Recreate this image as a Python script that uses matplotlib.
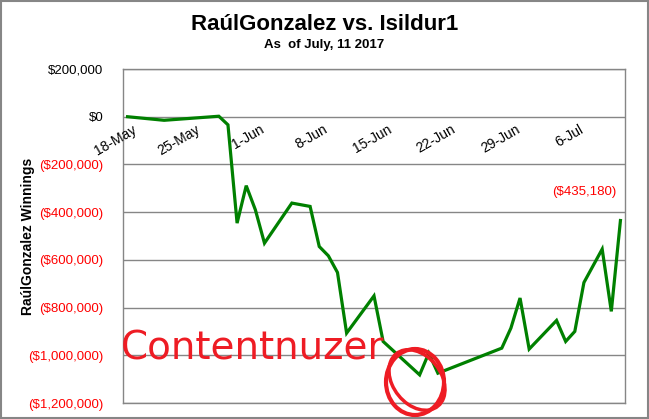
import matplotlib
matplotlib.use("Agg")
import matplotlib.pyplot as plt
import matplotlib.dates as mdates
from matplotlib.patches import Rectangle, Ellipse
import datetime as dt

plt.rcParams['font.family'] = ['Liberation Sans', 'DejaVu Sans']

# ---- data ----
dates = ['2017-05-18', '2017-05-22', '2017-05-28', '2017-05-29', '2017-05-30',
         '2017-05-31', '2017-06-01', '2017-06-02', '2017-06-05', '2017-06-07',
         '2017-06-08', '2017-06-09', '2017-06-10', '2017-06-11', '2017-06-14',
         '2017-06-15', '2017-06-19', '2017-06-20', '2017-06-21', '2017-06-28',
         '2017-06-29', '2017-06-30', '2017-07-01', '2017-07-04', '2017-07-05',
         '2017-07-06', '2017-07-07', '2017-07-09', '2017-07-10', '2017-07-11']
winnings = [0, -15000, 2000, -34000, -446000,
            -289000, -390000, -530000, -362000, -376000,
            -544000, -583000, -653000, -907000, -751000,
            -942000, -1082000, -991000, -1075000, -970000,
            -886000, -760000, -974000, -854000, -942000,
            -900000, -695000, -555000, -816000, -435180]
x_tick_dates = ['2017-05-18', '2017-05-25', '2017-06-01', '2017-06-08',
                '2017-06-15', '2017-06-22', '2017-06-29', '2017-07-06']
x_tick_labels = ['18-May', '25-May', '1-Jun', '8-Jun', '15-Jun', '22-Jun', '29-Jun', '6-Jul']
y_ticks = [200000, 0, -200000, -400000, -600000, -800000, -1000000, -1200000]
y_tick_labels = ['$200,000', '$0', '($200,000)', '($400,000)', '($600,000)',
                 '($800,000)', '($1,000,000)', '($1,200,000)']
last_label = '($435,180)'

title = 'RaúlGonzalez vs. Isildur1'
subtitle = 'As  of July, 11 2017'
ylabel = 'RaúlGonzalez Winnings'
scribble = 'Contentnuzer'

# ---- figure ----
W, H = 649, 419
fig = plt.figure(figsize=(W / 100, H / 100), dpi=100)
fig.patch.set_facecolor('white')

L, R, T, B = 123, 625, 69, 403
ax = fig.add_axes([L / W, 1 - B / H, (R - L) / W, (B - T) / H])

xd = [mdates.date2num(dt.datetime.strptime(d, '%Y-%m-%d')) for d in dates]
xt = [mdates.date2num(dt.datetime.strptime(d, '%Y-%m-%d')) for d in x_tick_dates]

ax.plot(xd, winnings, color='#008000', lw=2.3, solid_joinstyle='miter', zorder=3)

ax.set_xlim(xd[0] - 0.5, xd[-1] + 0.5)
ax.set_ylim(-1200000, 200000)

grid_col = '#868686'
for v in y_ticks:
    ax.axhline(v, color=grid_col, lw=1.0, zorder=1)
for s in ax.spines.values():
    s.set_color(grid_col)
    s.set_linewidth(1.0)

ax.set_yticks(y_ticks)
ax.set_yticklabels(y_tick_labels, fontsize=9.5)
for lab, v in zip(ax.get_yticklabels(), y_ticks):
    lab.set_color('black' if v >= 0 else '#FF0000')
ax.tick_params(axis='y', length=0, pad=14)

ax.set_xticks([])
for xv, txt in zip(xt, x_tick_labels):
    ax.annotate(txt, xy=(xv, 0), xycoords='data', xytext=(3, -4),
                textcoords='offset points', rotation=30, rotation_mode='anchor',
                ha='right', va='top', fontsize=10, color='black', zorder=4)

ax.annotate(last_label, xy=(xd[-1], winnings[-1]), xycoords='data',
            xytext=(-3, 16), textcoords='offset points', ha='right', va='bottom',
            fontsize=9.5, color='#FF0000')

fig.text(0.5, 1 - 24 / H, title, ha='center', va='center', fontsize=16,
         fontweight='bold')
fig.text(0.5, 1 - 45 / H, subtitle, ha='center', va='center', fontsize=9.5,
         fontweight='bold')
fig.text(28 / W, 1 - 236 / H, ylabel, ha='center', va='center', rotation=90,
         fontsize=10, fontweight='bold')

# hand-drawn overlay
fig.text(253 / W, 1 - 348 / H, scribble, ha='center', va='center', fontsize=28,
         color='#EE1C24', family='DejaVu Sans', zorder=10)
fig.patches.append(Ellipse((415 / W, 1 - 382 / H), 58 / W, 66 / H,
                           transform=fig.transFigure, fill=False,
                           ec='#EE1C24', lw=3.0, zorder=10))
fig.patches.append(Ellipse((417 / W, 1 - 380 / H), 52 / W, 62 / H, angle=15,
                           transform=fig.transFigure, fill=False,
                           ec='#EE1C24', lw=2.5, zorder=10))

# chart border
fig.patches.append(Rectangle((0.5 / W, 1.5 / H), (W - 2) / W, (H - 3) / H,
                             transform=fig.transFigure, fill=False,
                             ec='#868686', lw=1.5))

fig.savefig('out.png', dpi=100, facecolor='white')
